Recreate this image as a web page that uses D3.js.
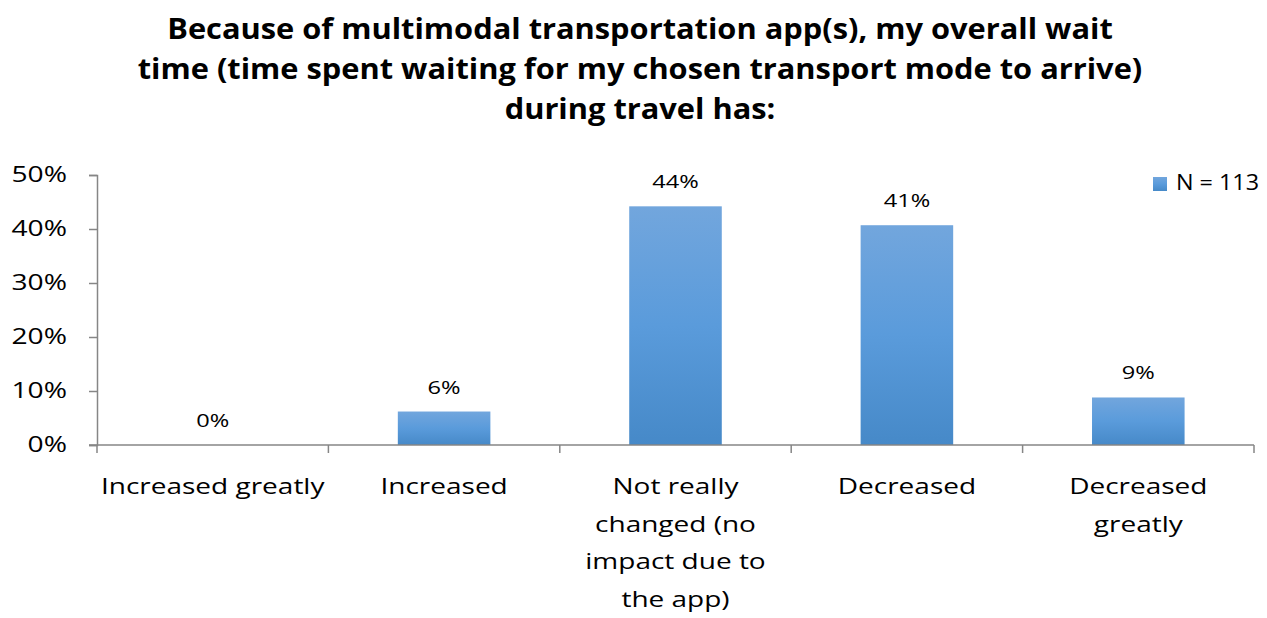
<!DOCTYPE html>
<html>
<head>
<meta charset="utf-8">
<script src="https://cdn.jsdelivr.net/npm/d3@7"></script>
<style>
	body { margin: 0; background: #fff; }
	svg { display: block; font-family: "Open Sans", sans-serif; }
</style>
</head>
<body>
<svg width="1267" height="618"></svg>
<script>
var categories = [
	["Increased greatly"],
	["Increased"],
	["Not really", "changed (no", "impact due to", "the app)"],
	["Decreased"],
	["Decreased", "greatly"]
];
var values = [0, 6.2, 44.2, 40.7, 8.8];
var valueLabels = ["0%", "6%", "44%", "41%", "9%"];
var yTicks = [0, 10, 20, 30, 40, 50];
var titleLines = [
	"Because of multimodal transportation app(s), my overall wait",
	"time (time spent waiting for my chosen transport mode to arrive)",
	"during travel has:"
];
var seriesName = "N = 113";

var svg = d3.select("svg"),
	plotLeft = 97, plotRight = 1254, plotTop = 175, plotBottom = 445;

// the original text is drawn a bit wider than normal, stretch it sideways
function place(x, y, sx) {
	return "translate(" + x + "," + y + ") scale(" + sx + ",1)";
}

var grad = svg.append("defs").append("linearGradient")
	.attr("id", "barGrad")
	.attr("x1", 0).attr("y1", 0).attr("x2", 0).attr("y2", 1);
grad.append("stop").attr("offset", "0%").attr("stop-color", "#72a6dd");
grad.append("stop").attr("offset", "50%").attr("stop-color", "#5a9bdb");
grad.append("stop").attr("offset", "100%").attr("stop-color", "#4689c8");

// title
svg.append("g").selectAll("text")
	.data(titleLines)
	.enter().append("text")
	.attr("transform", function(d, i) { return place(640, 39 + i * 40, 1.1); })
	.attr("text-anchor", "middle")
	.attr("font-weight", "bold")
	.attr("font-size", "28px")
	.attr("fill", "#000")
	.text(function(d) { return d; });

var x = d3.scaleBand()
	.domain(d3.range(categories.length))
	.range([plotLeft, plotRight])
	.paddingInner(0.6)
	.paddingOuter(0.3);

var y = d3.scaleLinear()
	.domain([0, 50])
	.range([plotBottom, plotTop]);

var step = (plotRight - plotLeft) / categories.length;

// bars
svg.append("g").selectAll("rect")
	.data(values)
	.enter().append("rect")
	.attr("x", function(d, i) { return x(i); })
	.attr("y", function(d) { return y(d); })
	.attr("width", x.bandwidth())
	.attr("height", function(d) { return y(0) - y(d); })
	.attr("fill", "url(#barGrad)");

// value labels
svg.append("g").selectAll("text")
	.data(values)
	.enter().append("text")
	.attr("transform", function(d, i) { return place(x(i) + x.bandwidth() / 2, y(d) - 18, 1.27); })
	.attr("text-anchor", "middle")
	.attr("font-size", "18.6px")
	.attr("fill", "#000")
	.text(function(d, i) { return valueLabels[i]; });

// y axis
var yAxis = svg.append("g")
	.attr("transform", "translate(" + plotLeft + ",0)")
	.call(d3.axisLeft(y).tickValues(yTicks).tickSize(8)
		.tickFormat(function(d) { return d + "%"; }));
yAxis.select(".domain").attr("stroke", "#868686").attr("stroke-width", 1.5);
yAxis.selectAll(".tick line").attr("stroke", "#868686").attr("stroke-width", 1.5);
yAxis.selectAll(".tick text")
	.attr("x", 0).attr("dy", null)
	.attr("transform", place(-30, 6.5, 1.31))
	.attr("font-size", "21.5px")
	.attr("font-family", "'Open Sans', sans-serif")
	.attr("fill", "#000");

// x axis line with boundary ticks
var xa = svg.append("g");
xa.append("line")
	.attr("x1", plotLeft - 8).attr("x2", plotRight)
	.attr("y1", plotBottom).attr("y2", plotBottom)
	.attr("stroke", "#868686").attr("stroke-width", 1.5);
xa.selectAll(".bt")
	.data(d3.range(categories.length + 1))
	.enter().append("line")
	.attr("x1", function(d) { return plotLeft + d * step; })
	.attr("x2", function(d) { return plotLeft + d * step; })
	.attr("y1", plotBottom).attr("y2", plotBottom + 8)
	.attr("stroke", "#868686").attr("stroke-width", 1.5);

// category labels
var cat = svg.append("g").selectAll("text")
	.data(categories)
	.enter().append("text")
	.attr("transform", function(d, i) { return place(x(i) + x.bandwidth() / 2, 494, 1.25); })
	.attr("text-anchor", "middle")
	.attr("font-size", "22.4px")
	.attr("fill", "#000");
cat.selectAll("tspan")
	.data(function(d) { return d; })
	.enter().append("tspan")
	.attr("x", 0)
	.attr("dy", function(d, i) { return i ? 37.7 : 0; })
	.text(function(d) { return d; });

// legend
var legend = svg.append("g").attr("transform", "translate(1153,177)");
legend.append("rect")
	.attr("width", 14).attr("height", 14)
	.attr("fill", "url(#barGrad)");
legend.append("text")
	.attr("transform", place(23, 13, 1.09))
	.attr("font-size", "21.4px")
	.attr("fill", "#000")
	.text(seriesName);
</script>
</body>
</html>
